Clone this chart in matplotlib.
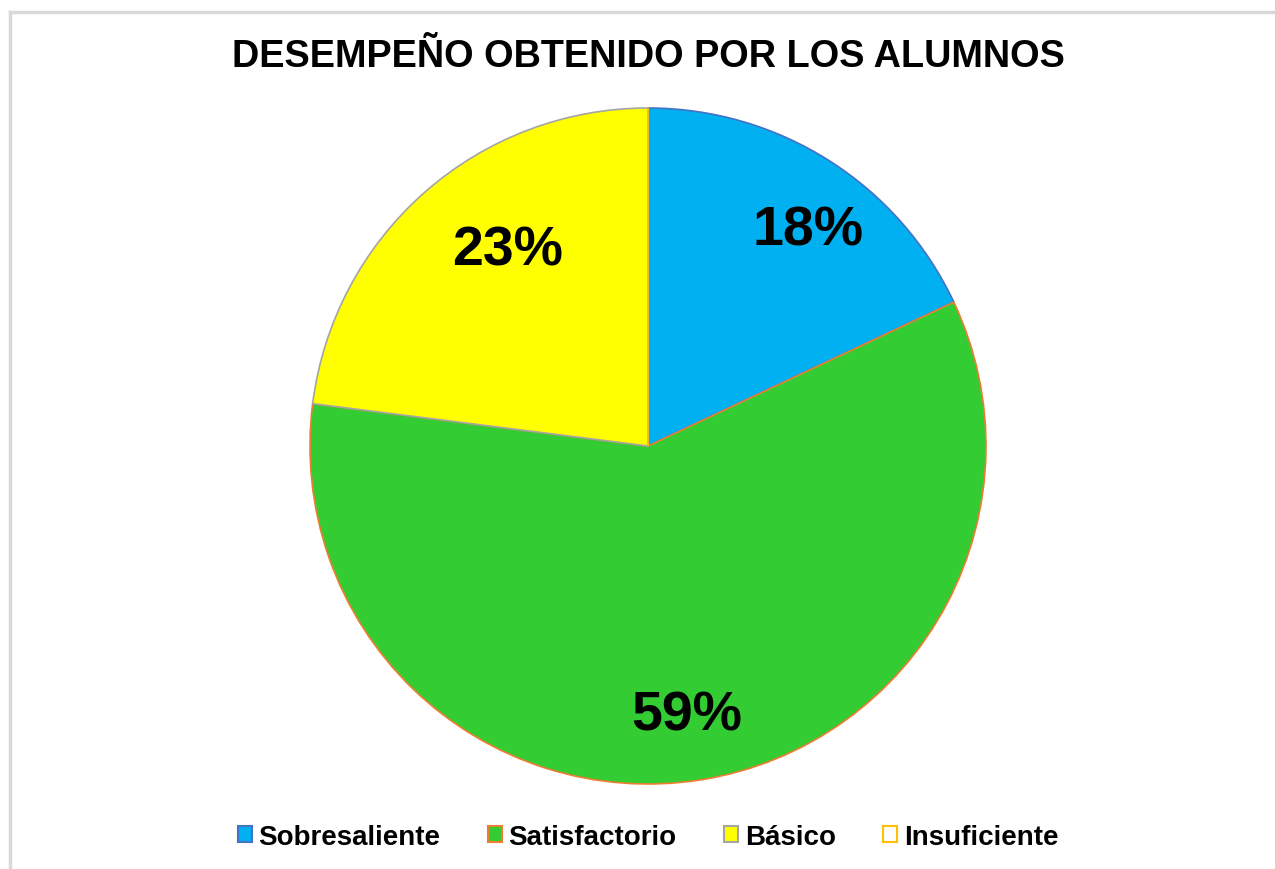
import matplotlib.pyplot as plt
from matplotlib.patches import Patch
from matplotlib.lines import Line2D

# Data
categories = ['Sobresaliente', 'Satisfactorio', 'Básico', 'Insuficiente']
values     = [18, 59, 23, 0]
colors     = ['#00B0F0', '#33CC33', '#FFFF00', '#FFFFFF']
edges      = ['#4472C4', '#ED7D31', '#A5A5A5', '#FFC000']

plt.rcParams['font.family'] = ['Liberation Sans', 'DejaVu Sans']

fig = plt.figure(figsize=(12.75, 8.7), dpi=100)
W, H = 1275, 870

# light gray chart frame (partly cropped)
fig.add_artist(Line2D([10 / W, 1.0], [1 - 13 / H, 1 - 13 / H],
                      transform=fig.transFigure, color='#D9D9D9', lw=2.5))
fig.add_artist(Line2D([10 / W, 10 / W], [0, 1 - 13 / H],
                      transform=fig.transFigure, color='#D9D9D9', lw=2.5))

ax = fig.add_axes([310 / W, 85 / H, 676 / W, 676 / H])
wedges, texts, autotexts = ax.pie(
    values, colors=colors, startangle=90, counterclock=False,
    autopct=lambda p: f'{p:.0f}%' if p > 0 else '',
    pctdistance=0.78, radius=1.0,
    wedgeprops=dict(linewidth=1.2),
    textprops=dict(fontsize=40, fontweight='bold', color='black'))
for w, ec in zip(wedges, edges):
    w.set_edgecolor(ec)

# small nudges of the data labels to match the original placement
nudges = [(0.056, -0.02), (-0.006, -0.027), (0.10, -0.006), (0, 0)]
for t, (dx, dy) in zip(autotexts, nudges):
    x, y = t.get_position()
    t.set_position((x + dx, y + dy))

ax.set_xlim(-1, 1)
ax.set_ylim(-1, 1)
ax.set_aspect('equal')
ax.axis('off')

fig.text(648 / W, 1 - 57 / H, 'DESEMPEÑO OBTENIDO POR LOS ALUMNOS',
         ha='center', va='center', fontsize=27.3, fontweight='bold')

handles = [Patch(facecolor=c, edgecolor=e, linewidth=1.5)
           for c, e in zip(colors, edges)]
fig.legend(handles, categories, loc='center', bbox_to_anchor=(648 / W, 1 - 838 / H),
           ncol=4, frameon=False, handlelength=0.5, handleheight=0.5,
           handletextpad=0.25, columnspacing=1.7,
           prop=dict(size=20, weight='bold'))

fig.savefig('out.png', dpi=100)
